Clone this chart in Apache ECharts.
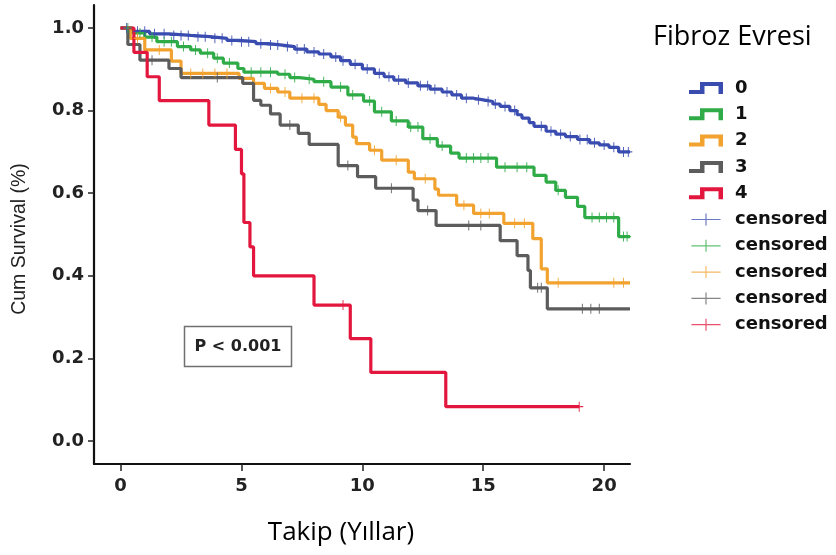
<!DOCTYPE html>
<html>
<head>
<meta charset="utf-8">
<script src="https://cdn.jsdelivr.net/npm/echarts@6/dist/echarts.min.js"></script>
<style>
  html, body { margin: 0; padding: 0; background: #ffffff; }
  #chart { width: 836px; height: 555px; }
</style>
</head>
<body>
<div id="chart"></div>
<script>
// Kaplan–Meier cumulative survival by fibrosis stage (Fibroz Evresi 0–4)
const stageNames = ['0', '1', '2', '3', '4'];
const stageColors = ['#3a4cb0', '#2fab47', '#f2a22e', '#5c5c5c', '#e3173e'];

// survival steps: [follow-up years, cumulative survival after the event]
const stage0 = [[0,1],[0.45,0.992],[1.2,0.986],[2.0,0.982],[2.9,0.979],[3.7,0.975],[4.4,0.970],[4.9,0.967],
  [5.6,0.962],[6.1,0.959],[6.6,0.955],[7.2,0.949],[7.7,0.942],[8.2,0.937],[8.7,0.930],[9.1,0.921],[9.5,0.912],
  [10.0,0.901],[10.5,0.890],[10.9,0.882],[11.3,0.874],[11.8,0.867],[12.3,0.860],[12.8,0.852],[13.3,0.845],
  [13.7,0.838],[14.1,0.830],[14.6,0.826],[15.0,0.822],[15.4,0.816],[15.7,0.810],[16.1,0.800],[16.4,0.790],
  [16.6,0.782],[16.9,0.771],[17.1,0.762],[17.6,0.750],[18.0,0.743],[18.4,0.737],[18.9,0.730],[19.4,0.722],
  [19.8,0.717],[20.2,0.711],[20.6,0.700]];
const stage1 = [[0,1],[0.5,0.988],[1.0,0.978],[1.5,0.967],[2.35,0.955],[2.9,0.947],[3.3,0.939],[3.85,0.927],
  [4.25,0.915],[4.85,0.902],[5.1,0.893],[6.5,0.888],[7.0,0.880],[7.4,0.876],[8.0,0.870],[8.7,0.857],[9.4,0.838],
  [10.05,0.823],[10.5,0.797],[11.2,0.775],[11.9,0.760],[12.5,0.732],[13.1,0.714],[13.65,0.697],[14.0,0.685],
  [15.55,0.663],[17.1,0.643],[17.6,0.627],[18.0,0.607],[18.4,0.590],[18.9,0.568],[19.2,0.541],[20.6,0.495]];
const stage2 = [[0,1],[0.4,0.975],[1.0,0.947],[2.1,0.920],[2.5,0.890],[4.9,0.878],[5.5,0.866],[5.95,0.854],
  [6.5,0.845],[7.0,0.830],[8.2,0.815],[8.5,0.800],[9.0,0.784],[9.3,0.765],[9.6,0.736],[9.75,0.720],[10.3,0.704],
  [10.8,0.680],[11.9,0.651],[12.15,0.635],[13.0,0.610],[13.15,0.595],[13.9,0.571],[14.6,0.551],[15.85,0.527],
  [17.05,0.490],[17.4,0.417],[17.65,0.383]];
const stage3 = [[0,1],[0.3,0.960],[0.8,0.922],[2.0,0.902],[2.5,0.880],[5.05,0.866],[5.5,0.825],[5.8,0.813],
  [6.2,0.792],[6.6,0.765],[7.35,0.745],[7.8,0.718],[9.0,0.667],[9.8,0.640],[10.55,0.612],[12.1,0.583],
  [12.3,0.558],[13.05,0.522],[15.7,0.485],[16.4,0.449],[16.85,0.413],[16.95,0.371],[17.65,0.320]];
const stage4 = [[0,1],[0.55,0.941],[1.1,0.882],[1.6,0.824],[3.65,0.765],[4.75,0.706],[5.0,0.647],[5.1,0.529],
  [5.35,0.470],[5.5,0.400],[8.0,0.329],[9.5,0.248],[10.35,0.166],[13.45,0.083]];

// censored follow-up times (years)
const censor0 = [0.25,0.7,1.0,1.4,1.8,2.2,2.5,2.8,3.2,3.5,3.9,4.2,4.6,5.0,5.3,5.8,6.2,6.5,6.9,7.3,7.6,8.0,8.4,
  8.9,9.2,9.7,10.2,10.7,11.1,11.5,11.9,12.4,12.7,13.0,13.5,13.9,14.3,14.8,15.2,15.5,15.9,16.3,17.4,17.8,18.2,
  18.6,19.0,19.3,19.6,20.0,20.4,20.8,21.0];
const censor1 = [0.3,0.8,1.3,1.8,2.1,2.6,3.1,3.6,4.0,4.5,5.4,5.8,6.2,6.8,7.2,7.8,8.4,9.1,9.6,10.3,10.8,11.4,
  12.0,12.3,12.8,13.3,14.3,14.6,14.9,15.2,15.9,16.4,16.8,18.1,19.5,19.8,20.1,20.4,20.8,20.95];
const censor2 = [0.7,1.6,2.9,3.4,3.9,4.4,6.2,6.8,7.5,8.0,9.1,10.5,11.4,12.6,14.2,14.9,15.25,16.3,16.7,18.1,20.4,20.8];
const censor3 = [1.3,4.0,7.0,9.4,11.2,12.7,14.4,14.9,17.25,17.4,19.1,19.45,19.8];
const censor4 = [9.2,18.97];

// last follow-up per stage (where each curve stops)
const followUpEnd = [21.07, 21.07, 21.07, 21.07, 18.97];

const xTicks = [0, 5, 10, 15, 20];
const yTicks = [0, 0.2, 0.4, 0.6, 0.8, 1.0];

const stageSteps = [stage0, stage1, stage2, stage3, stage4];
const stageCensor = [censor0, censor1, censor2, censor3, censor4];

function survivalAt(steps, t) {
  let s = steps[0][1];
  for (const [time, value] of steps) {
    if (time <= t) s = value; else break;
  }
  return s;
}

const stepIcon = 'path://M0,8 L11,8 L11,0 L34,0 L34,12 L29.5,12 L29.5,4 L15.5,4 L15.5,12 L0,12 Z';
const crossIcon = 'path://M16.3,0 L17.7,0 L17.7,6.3 L34,6.3 L34,7.7 L17.7,7.7 L17.7,14 L16.3,14 L16.3,7.7 L0,7.7 L0,6.3 L16.3,6.3 Z';
const censorMark = 'path://M4.4,0 L5.6,0 L5.6,4.4 L10,4.4 L10,5.6 L5.6,5.6 L5.6,10 L4.4,10 L4.4,5.6 L0,5.6 L0,4.4 L4.4,4.4 Z';

const series = [];
stageSteps.forEach((steps, i) => {
  const last = steps[steps.length - 1][1];
  series.push({
    name: stageNames[i],
    type: 'line',
    step: 'end',
    showSymbol: false,
    symbol: 'none',
    data: steps.concat([[followUpEnd[i], last]]),
    color: stageColors[i],
    lineStyle: { width: 3.2, color: stageColors[i] },
    z: 2
  });
});
stageCensor.forEach((times, i) => {
  series.push({
    name: 'censored ' + i,
    type: 'scatter',
    symbol: censorMark,
    symbolSize: [8, 10],
    data: times.map(t => [t, survivalAt(stageSteps[i], t)]),
    color: stageColors[i],
    itemStyle: { color: stageColors[i], opacity: 0.9 },
    z: 3
  });
});

const legendData = stageNames.map(n => ({ name: n, icon: stepIcon }))
  .concat(stageNames.map((n, i) => ({ name: 'censored ' + i, icon: crossIcon, itemStyle: { opacity: 0.75 } })));

const tickFont = { fontFamily: 'DejaVu Sans', fontWeight: 'bold', fontSize: 18, color: '#222' };

const chart = echarts.init(document.getElementById('chart'), null, { renderer: 'canvas' });
chart.setOption({
  animation: false,
  backgroundColor: '#ffffff',
  grid: { left: 94, right: 206, top: 5, bottom: 91, outerBoundsMode: 'none', containLabel: false },
  xAxis: {
    type: 'value',
    min: -1.1,
    max: 21.07,
    axisLine: { show: true, onZero: false, lineStyle: { color: '#111', width: 2.2 } },
    axisTick: { show: true, length: 7, customValues: xTicks, lineStyle: { color: '#222', width: 1.5 } },
    axisLabel: Object.assign({ customValues: xTicks, margin: 13 }, tickFont),
    splitLine: { show: false }
  },
  yAxis: {
    type: 'value',
    min: -0.0557,
    max: 1.0557,
    axisLine: { show: true, onZero: false, lineStyle: { color: '#111', width: 2.2 } },
    axisTick: { show: true, length: 6, customValues: yTicks, lineStyle: { color: '#222', width: 1.5 } },
    axisLabel: Object.assign({ customValues: yTicks, margin: 10, formatter: v => v.toFixed(1) }, tickFont),
    splitLine: { show: false }
  },
  legend: {
    orient: 'vertical',
    left: 684,
    top: 74,
    itemWidth: 34,
    itemHeight: 12,
    itemGap: 8.3,
    selectedMode: false,
    itemStyle: { borderWidth: 0 },
    formatter: name => name.indexOf('censored') === 0 ? 'censored' : name,
    textStyle: {
      fontFamily: 'DejaVu Sans', fontWeight: 'bold', fontSize: 18, color: '#111',
      lineHeight: 18, padding: [0, 0, 0, 7]
    },
    data: legendData
  },
  graphic: [
    {
      type: 'text', left: 653, top: 24,
      style: { text: 'Fibroz Evresi', fontFamily: 'Open Sans', fontSize: 27, fill: '#000' }
    },
    {
      type: 'text', x: 341, y: 533,
      style: { text: 'Takip (Yıllar)', fontFamily: 'Open Sans', fontSize: 26, fill: '#000',
               align: 'center', verticalAlign: 'middle' }
    },
    {
      type: 'text', x: 20, y: 239, rotation: Math.PI / 2,
      style: { text: 'Cum Survival (%)', fontFamily: 'Liberation Sans', fontSize: 19.5, fill: '#222',
               align: 'center', verticalAlign: 'middle' }
    },
    {
      type: 'rect', shape: { x: 184.5, y: 326.5, width: 107, height: 40 },
      style: { fill: '#fff', stroke: '#707070', lineWidth: 1.5 }, z: 10
    },
    {
      type: 'text', x: 238, y: 347, z: 11,
      style: { text: 'P < 0.001', fontFamily: 'DejaVu Sans', fontWeight: 'bold', fontSize: 16, fill: '#222',
               align: 'center', verticalAlign: 'middle' }
    }
  ],
  series: series
});
</script>
</body>
</html>
